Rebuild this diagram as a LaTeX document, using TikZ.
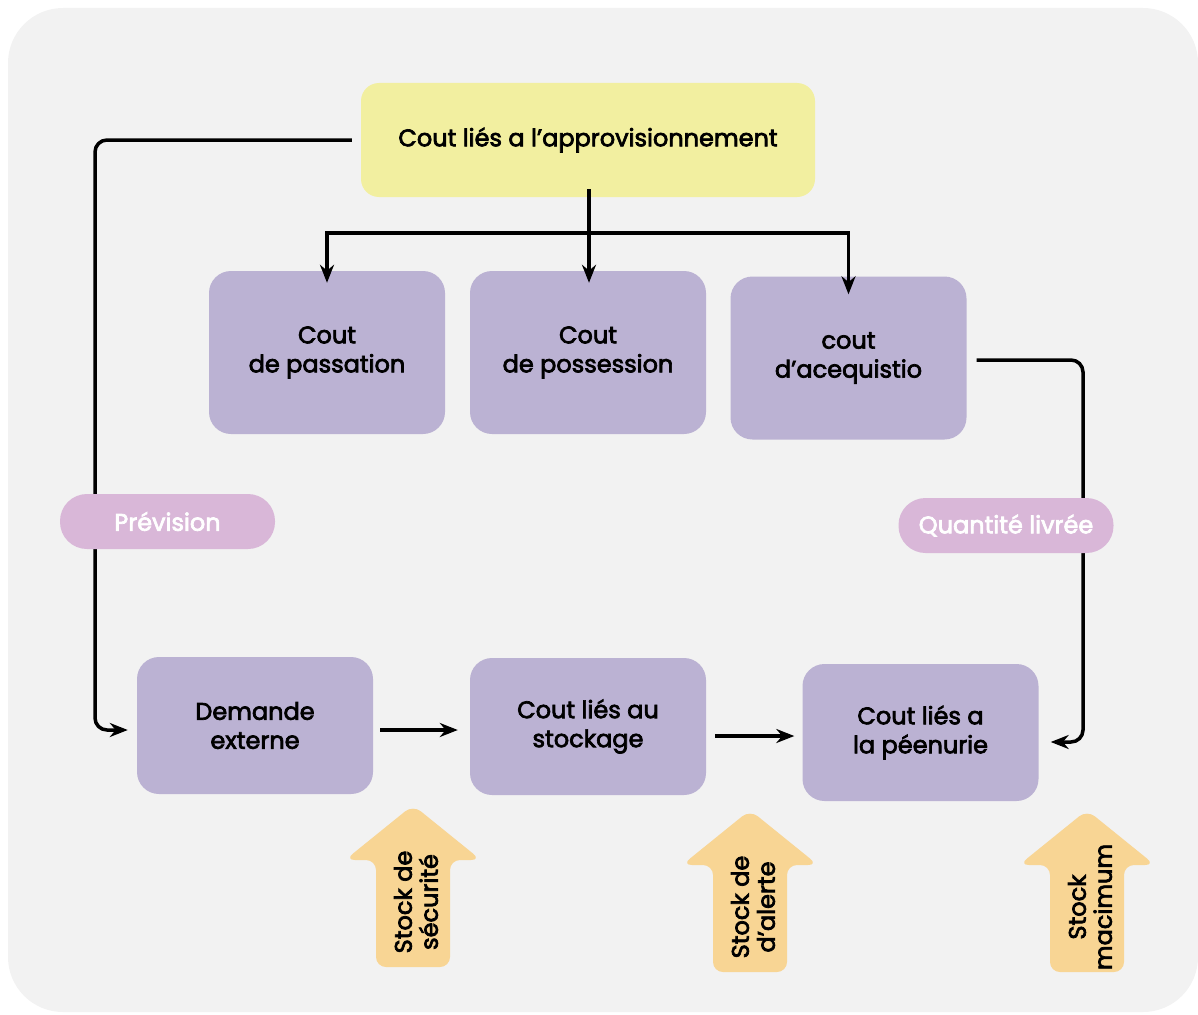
\documentclass[tikz,border=0pt]{standalone}
\usepackage{fontspec}
\setmainfont{Poppins}
\usetikzlibrary{arrows.meta}
\definecolor{bgc}{HTML}{F2F2F2}
\definecolor{yel}{HTML}{F2EFA0}
\definecolor{pur}{HTML}{BBB2D3}
\definecolor{pill}{HTML}{D9B7D8}
\definecolor{org}{HTML}{F8D594}
\newcommand\embon{\special{pdf:literal direct 2 Tr 0.7 w}}
\newcommand\emboff{\special{pdf:literal direct 0 Tr}}
\tikzset{
  heavy/.style={execute at begin node=\embon, execute at end node=\emboff},
  box/.style={rectangle, rounded corners=22pt, fill=pur, minimum width=236pt, minimum height=163pt, inner sep=0pt, align=center, heavy, font=\fontsize{24}{29}\selectfont},
  lowbox/.style={box, minimum height=137pt},
  topbox/.style={rectangle, rounded corners=18pt, fill=yel, minimum width=454pt, minimum height=114pt, inner sep=0pt, heavy, font=\fontsize{24}{29}\selectfont},
  pillbox/.style={rectangle, rounded corners=27pt, fill=pill, minimum width=215pt, minimum height=55pt, inner sep=0pt, text=white, heavy, font=\fontsize{24}{26}\selectfont},
  conn/.style={line width=3.5pt, -{Stealth[length=18pt,width=14pt]}},
  plain/.style={line width=3.5pt},
  barrow/.style={fill=org, rounded corners=10pt},
  btext/.style={rotate=90, align=center, heavy, font=\fontsize{24}{26}\selectfont, inner sep=0pt}
}
\begin{document}
\begin{tikzpicture}[x=1pt,y=-1pt]
\useasboundingbox (0,0) rectangle (1198,1014);
\fill[bgc, rounded corners=55pt] (8,8) rectangle (1198,1012);

\node[topbox] (top) at (588,140) {Cout liés a l’approvisionnement};
\node[box] (pass) at (327,352.5) {Cout\\de passation};
\node[box] (poss) at (588,352.5) {Cout\\de possession};
\node[box] (acq) at (848.5,358) {cout\\d’acequistio};
\node[lowbox] (dem) at (255,725.5) {Demande\\externe};
\node[lowbox] (sto) at (588,726.5) {Cout liés au\\stockage};
\node[lowbox] (pen) at (920.5,732.5) {Cout liés a\\la péenurie};

% top distribution
\coordinate (hub) at (589,233);
\draw[plain] ([yshift=8pt]top.south -| hub) -- (hub);
\draw[conn] (hub) -| ([yshift=-12pt]pass.north);
\draw[conn] (hub) -- ([yshift=-12pt]poss.north -| hub);
\draw[conn] (hub) -| ([yshift=-18pt]acq.north);

% left loop
\coordinate (lc) at (95,140);
\draw[conn, rounded corners=12pt] ([xshift=-9pt]top.west) -- (lc) |- ([xshift=-9pt]dem.west |- 0,730);
% right loop
\coordinate (rc) at (1083,360);
\draw[conn, rounded corners=12pt] ([xshift=10pt]acq.east |- 0,360) -- (rc) |- ([xshift=12pt]pen.east |- 0,742);

% horizontal
\draw[conn] ([xshift=7pt]dem.east |- 0,730) -- ([xshift=-12pt]sto.west |- 0,730);
\draw[conn] ([xshift=9pt]sto.east |- 0,736) -- ([xshift=-8pt]pen.west |- 0,736);

% pills
\node[pillbox] (prev) at (167.5,521.5) {Prévision};
\node[pillbox] (qty) at (1006,525.5) {Quantité livrée};

% block arrows
\foreach \dx/\dy/\nm/\txt in {0/0/a1/{Stock de\\sécurité}, 337/5/a2/{Stock de\\d’alerte}, 674/5/a3/{Stock\\macimum}}{
  \begin{scope}[shift={(\dx,\dy)}]
    \fill[barrow] (376,967) -- (376,860) -- (345,860) -- (413,805) -- (481,860) -- (450,860) -- (450,967) -- cycle;
    \node[btext] (\nm) at (416,902) {\txt};
  \end{scope}
}
\end{tikzpicture}
\end{document}
